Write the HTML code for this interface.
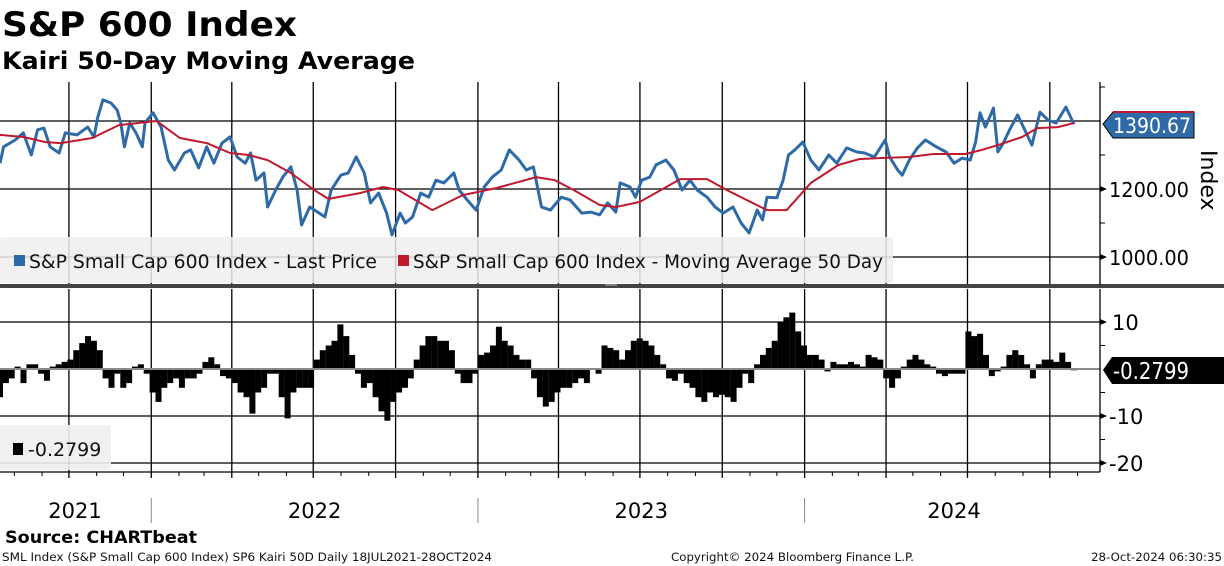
<!DOCTYPE html>
<html><head><meta charset="utf-8">
<style>
html,body{margin:0;padding:0;background:#fff;}
body{width:1224px;height:566px;overflow:hidden;position:relative;font-family:"DejaVu Sans","Liberation Sans",sans-serif;}
svg{position:absolute;left:0;top:0;}
</style></head>
<body>
<svg id="chart" width="1224" height="566" viewBox="0 0 1224 566">
  <text x="2" y="36" font-family="DejaVu Sans, sans-serif" font-weight="bold" font-size="34" fill="#000" textLength="295" lengthAdjust="spacingAndGlyphs">S&amp;P 600 Index</text>
  <text x="2" y="69" font-family="DejaVu Sans, sans-serif" font-weight="bold" font-size="24" fill="#000" textLength="413" lengthAdjust="spacingAndGlyphs">Kairi 50-Day Moving Average</text>
  <g id="grid"></g>
  <g id="top-legend-bg"></g>
  <g id="series"></g>
  <g id="axes"></g>
</svg>
<script>
// ---- data ----
const startDate = "2021-07-16";
const priceDays = [0,4,17,26,35,42,49,56,66,73,86,98,105,109,115,124,131,135,139,145,152,159,162,171,180,188,195,206,213,222,231,239,248,257,265,274,280,286,295,299,308,316,325,332,337,346,355,363,370,381,389,398,407,414,423,432,438,447,453,461,470,479,487,496,507,513,522,532,541,550,560,569,580,588,596,605,615,627,637,650,660,670,679,688,693,704,710,717,726,733,744,753,762,771,779,790,799,808,819,828,837,846,852,857,868,875,881,888,897,906,915,926,935,946,957,966,977,989,994,1003,1008,1016,1025,1034,1046,1057,1066,1075,1084,1090,1095,1101,1110,1115,1121,1128,1137,1146,1153,1162,1171,1180,1191,1200];
const priceValues = [1276,1324,1344,1365,1300,1374,1379,1324,1306,1365,1359,1382,1353,1409,1462,1453,1432,1394,1324,1394,1365,1324,1394,1424,1382,1285,1256,1306,1315,1262,1324,1276,1335,1353,1294,1276,1306,1226,1247,1147,1197,1235,1265,1197,1094,1147,1132,1118,1197,1241,1247,1294,1247,1159,1188,1129,1065,1129,1100,1118,1188,1176,1226,1218,1247,1197,1168,1138,1206,1235,1256,1315,1285,1256,1265,1147,1138,1176,1168,1129,1132,1124,1159,1132,1218,1206,1176,1226,1235,1271,1285,1256,1197,1226,1197,1176,1147,1129,1147,1100,1071,1138,1109,1176,1174,1226,1300,1315,1338,1285,1256,1300,1276,1321,1309,1306,1294,1344,1294,1256,1241,1285,1321,1344,1324,1309,1276,1291,1285,1338,1424,1382,1438,1309,1335,1374,1418,1368,1329,1426,1403,1394,1441,1391];
const maDays = [0,26,51,68,103,133,175,201,231,257,278,299,325,351,367,402,428,445,483,517,555,599,620,641,670,688,715,760,790,812,857,879,906,937,960,982,1016,1043,1079,1097,1115,1142,1159,1182,1200];
const maValues = [1359,1353,1338,1335,1350,1388,1400,1350,1335,1306,1300,1285,1247,1197,1171,1188,1206,1197,1138,1182,1203,1235,1226,1197,1153,1147,1162,1229,1229,1197,1138,1138,1218,1271,1288,1291,1294,1303,1303,1315,1329,1353,1379,1382,1394];
const kairiValues = [-6,-3,-2,0.5,-3,1,1,-1,-2.5,0.5,1,1.5,2,4,5.5,7,6,4,-2,-4,-1,-4,-3,0.5,1,-1,-5,-7,-4,-3,-2,-4,-2,-2,-1,1.5,2.5,1,-1.5,-2,-3,-5,-6,-9.5,-5,-4,-1,-1,-6,-10.5,-5,-4,-4,-4,2,4,5,6,9.5,7,3,-1,-4,-3,-6,-9,-11,-7,-5,-4,-2,2,5,7,7,6,6,4,-1,-3,-3,-1,3,3.5,5,9,6,5,3,2,2,-2,-6,-8,-7,-5,-4,-4,-3,-2,-3,0,-1,5,4.5,4,2,4,6,6.5,6,5,3,1,-2,-2.5,-1,-3,-4,-6,-7,-5,-6,-5.5,-6,-7,-4,-1,-3,1,3,4.5,6,10,11,12,8,5,3,3,2,-0.5,1.5,1,1,1.5,1,0.5,3,2.5,2,-2,-4,-2,0.5,2,3,2,1,0.5,-1,-1.5,-1,-1,-1,8,7,7.5,3,-1.5,-0.5,0.5,3,4,3,1,-2,1,2,2,1.5,3.5,1.5,-0.2799];
const topTicks = [1200, 1000];
const topMinor = [1500, 1300, 1100];
const botTicks = [10, -10, -20];
const botMinor = [5, -5, -15];
const yearLabels = ["2021","2022","2023","2024"];
const lastPrice = "1390.67";
const lastKairi = "-0.2799";

// ---- scales ----
const NS = "http://www.w3.org/2000/svg";
const t0 = new Date(startDate + "T00:00:00Z").getTime();
const DAY = 86400000;
const X0 = 0, PXD = 0.895, RIGHT = 1100;
const dayOf = d => (new Date(d + "T00:00:00Z").getTime() - t0) / DAY;
const xOf = day => X0 + day * PXD;
const yTop = p => 121 + (1400 - p) * 0.34;
const yBot = k => 369 - k * 4.7;
const TOP0 = 82, TOP1 = 285, BOT0 = 289, BOT1 = 472;

function mk(tag, attrs, parent) {
  const e = document.createElementNS(NS, tag);
  for (const k in attrs) e.setAttribute(k, attrs[k]);
  parent.appendChild(e);
  return e;
}
const grid = document.getElementById("grid");
const series = document.getElementById("series");
const axes = document.getElementById("axes");
const legbg = document.getElementById("top-legend-bg");

for (let y = 2021; y <= 2024; y++) {
  for (let m = 1; m <= 12; m++) {
    const ds = y + "-" + String(m).padStart(2, "0") + "-01";
    const x = xOf(dayOf(ds));
    if (x < 0 || x > RIGHT) continue;
    if ((m - 1) % 3 === 0) {
      const g1 = mk("line", {x1:x, y1:TOP0, x2:x, y2:TOP1, stroke:"#000", "stroke-width":1.3}, grid);
      
      
      const g2 = mk("line", {x1:x, y1:BOT0, x2:x, y2:BOT1 + 6, stroke:"#000", "stroke-width":1.3}, grid);
      
      
    } else {
      const tk = mk("line", {x1:x, y1:BOT1, x2:x, y2:BOT1 + 4, stroke:"#000", "stroke-width":1}, axes);
      
      
    }
  }
}
[1400, 1200, 1000].forEach(v => {
  const l = mk("line", {x1:0, y1:yTop(v), x2:RIGHT, y2:yTop(v), stroke:"#000", "stroke-width":1.3}, grid);
  
  
});
[10, -10, -20].forEach(v => {
  const l = mk("line", {x1:0, y1:yBot(v), x2:RIGHT, y2:yBot(v), stroke:"#000", "stroke-width":1.3}, grid);
  
  
});

const lb = mk("rect", {x:0, y:237, width:893, height:46, fill:"#eeeeee", "fill-opacity":0.85, rx:3}, legbg);


const s1 = mk("rect", {x:14, y:255, width:11, height:11, fill:"#2e6aa8"}, legbg);


const t1 = mk("text", {x:29, y:268, "font-size":19, fill:"#111", textLength:348, lengthAdjust:"spacingAndGlyphs"}, legbg);
t1.textContent = "S&P Small Cap 600 Index - Last Price";


const s2 = mk("rect", {x:398, y:255, width:11, height:11, fill:"#c0192e"}, legbg);


const t2 = mk("text", {x:413, y:268, "font-size":19, fill:"#111", textLength:470, lengthAdjust:"spacingAndGlyphs"}, legbg);
t2.textContent = "S&P Small Cap 600 Index - Moving Average 50 Day";



let d = priceDays.map((dd, i) => (i ? "L" : "M") + xOf(dd).toFixed(1) + "," + yTop(priceValues[i]).toFixed(1)).join(" ");
const pl = mk("path", {d:d, fill:"none", stroke:"#2e6aa8", "stroke-width":3, "stroke-linejoin":"round"}, series);


d = maDays.map((dd, i) => (i ? "L" : "M") + xOf(dd).toFixed(1) + "," + yTop(maValues[i]).toFixed(1)).join(" ");
const ml = mk("path", {d:d, fill:"none", stroke:"#c0192e", "stroke-width":2, "stroke-linejoin":"round"}, series);



const lastDay = priceDays[priceDays.length - 1];
const step = lastDay / (kairiValues.length - 1);
kairiValues.forEach((k, i) => {
  const x = xOf(i * step);
  const w = step * PXD * 1.02;
  const y0 = yBot(0), y1 = yBot(k);
  const b = mk("rect", {x:(x - w / 2).toFixed(1), y:Math.min(y0, y1).toFixed(1), width:w.toFixed(1), height:Math.max(0.8, Math.abs(y1 - y0)).toFixed(1), fill:"#000"}, series);
  
  
});
const zl = mk("line", {x1:0, y1:yBot(0), x2:RIGHT, y2:yBot(0), stroke:"#8a8a8a", "stroke-width":2}, series);



const kb = mk("rect", {x:0, y:425, width:111, height:45, fill:"#eeeeee", "fill-opacity":0.9, rx:3}, series);


const ks = mk("rect", {x:13, y:443, width:10, height:12, fill:"#000"}, series);


const kt = mk("text", {x:28, y:456, "font-size":19, fill:"#111"}, series);
kt.textContent = lastKairi;



const sep = mk("rect", {x:0, y:284, width:1224, height:4, fill:"#444"}, axes);


const grip = mk("line", {x1:605, y1:285, x2:617, y2:285, stroke:"#bbb", "stroke-width":1}, axes);



const ra1 = mk("line", {x1:RIGHT, y1:TOP0, x2:RIGHT, y2:TOP1, stroke:"#000", "stroke-width":1.3}, axes);


const ra2 = mk("line", {x1:RIGHT, y1:BOT0, x2:RIGHT, y2:BOT1, stroke:"#000", "stroke-width":1.3}, axes);


const ba = mk("line", {x1:0, y1:BOT1, x2:RIGHT, y2:BOT1, stroke:"#000", "stroke-width":1.3}, axes);



topTicks.forEach(v => {
  const y = yTop(v);
  const a = mk("path", {d:`M${RIGHT},${y - 3} L${RIGHT + 7},${y} L${RIGHT},${y + 3} Z`, fill:"#000"}, axes);
  
  
  const t = mk("text", {x:1109, y:y + 8, "font-size":20, fill:"#000", textLength:80, lengthAdjust:"spacingAndGlyphs"}, axes);
  t.textContent = v.toFixed(2);
  
  
});
topMinor.forEach(v => {
  const y = yTop(v);
  if (y < TOP0) return;
  const m = mk("line", {x1:RIGHT, y1:y, x2:RIGHT + 5, y2:y, stroke:"#000"}, axes);
  
  
});
botTicks.forEach(v => {
  const y = yBot(v);
  const a = mk("path", {d:`M${RIGHT},${y - 3} L${RIGHT + 7},${y} L${RIGHT},${y + 3} Z`, fill:"#000"}, axes);
  
  
  const t = mk("text", {x:v < 0 ? 1109 : 1112, y:y + 8, "font-size":21, fill:"#000"}, axes);
  t.textContent = String(v);
  
  
});
botMinor.forEach(v => {
  const y = yBot(v);
  const m = mk("line", {x1:RIGHT, y1:y, x2:RIGHT + 5, y2:y, stroke:"#000"}, axes);
  
  
});
const it = mk("text", {x:0, y:0, "font-size":22, fill:"#000", transform:"translate(1201,150) rotate(90)"}, axes);
it.textContent = "Index";



{
  const y = yTop(priceValues[priceValues.length - 1]);
  const f = mk("path", {d:`M${RIGHT + 3},${y} L${RIGHT + 13},${y - 12} L1194,${y - 12} L1194,${y + 14} L${RIGHT + 13},${y + 14} Z`, fill:"#2e6aa8", stroke:"#000", "stroke-width":1}, axes);
  
  
  const r = mk("line", {x1:RIGHT + 13, y1:y - 12, x2:1194, y2:y - 12, stroke:"#c0192e", "stroke-width":2}, axes);
  
  
  const t = mk("text", {x:1113, y:y + 9, "font-size":21, fill:"#fff", textLength:78, lengthAdjust:"spacingAndGlyphs"}, axes);
  t.textContent = lastPrice;
  
  
}
{
  const y = yBot(0) + 1;
  const f = mk("path", {d:`M${RIGHT + 3},${y} L${RIGHT + 12},${y - 13} L1224,${y - 13} L1224,${y + 14} L${RIGHT + 12},${y + 14} Z`, fill:"#000"}, axes);
  
  
  const t = mk("text", {x:1113, y:y + 9, "font-size":23, fill:"#fff", textLength:76, lengthAdjust:"spacingAndGlyphs"}, axes);
  t.textContent = lastKairi;
  
  
}

yearLabels.forEach((yr, i) => {
  const a = Math.max(0, xOf(dayOf(yr + "-01-01")));
  const b = Math.min(RIGHT, xOf(dayOf((+yr + 1) + "-01-01")));
  const cx = yr === "2021" ? 75 : (yr === "2024" ? 954 : (a + b) / 2);
  const t = mk("text", {x:cx, y:518, "font-size":21, "text-anchor":"middle", fill:"#000"}, axes);
  t.textContent = yr;
  
  
  if (i > 0) {
    const s = mk("line", {x1:a, y1:498, x2:a, y2:523, stroke:"#888", "stroke-width":1}, axes);
    
    
  }
});

const src = mk("text", {x:5, y:543, "font-size":17, "font-weight":"bold", fill:"#000", textLength:192, lengthAdjust:"spacingAndGlyphs"}, axes);
src.textContent = "Source: CHARTbeat";


const f1 = mk("text", {x:2, y:561, "font-size":11.5, fill:"#111", textLength:490, lengthAdjust:"spacingAndGlyphs"}, axes);
f1.textContent = "SML Index (S&P Small Cap 600 Index) SP6 Kairi 50D  Daily 18JUL2021-28OCT2024";


const f2 = mk("text", {x:671, y:561, "font-size":11.5, fill:"#111", textLength:243, lengthAdjust:"spacingAndGlyphs"}, axes);
f2.textContent = "Copyright\u00A9 2024 Bloomberg Finance L.P.";


const f3 = mk("text", {x:1091, y:561, "font-size":11.5, fill:"#111", textLength:131, lengthAdjust:"spacingAndGlyphs"}, axes);
f3.textContent = "28-Oct-2024 06:30:35";


</script>
</body></html>
